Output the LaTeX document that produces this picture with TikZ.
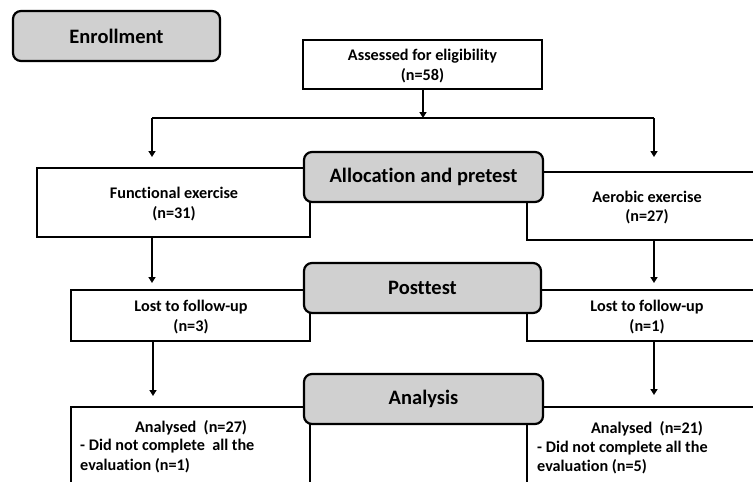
\documentclass[tikz,border=0pt]{standalone}
\usepackage{fontspec}
\setmainfont{Carlito}[Ligatures=NoCommon]
\usetikzlibrary{arrows.meta}
\definecolor{hdrgray}{RGB}{208,208,208}
\begin{document}
\begin{tikzpicture}[x=1pt,y=-1pt,
  box/.style={draw, line width=1.3pt, fill=white, inner sep=0pt, outer sep=0pt,
    font=\fontsize{16.2}{19.5}\selectfont\bfseries, align=center},
  hdr/.style={draw, line width=2.2pt, rounded corners=8pt, fill=hdrgray, inner sep=0pt, outer sep=0pt,
    font=\fontsize{20.5}{24}\selectfont\bfseries},
  txt/.style={font=\fontsize{16.2}{19.5}\selectfont\bfseries, inner sep=0pt},
  arr/.style={line width=1.6pt, -{Triangle[width=7pt,length=6pt]}},
  ln/.style={line width=1.6pt}]
\useasboundingbox (0,0) rectangle (753,482);
\clip (0,0) rectangle (753,482);
% white boxes
\node[box, minimum width=239pt, minimum height=49pt] (assess) at (422.5,64.5) {};
\node[txt, align=center] (assesst) at (422.5,66) {Assessed for eligibility\\(n=58)};
\node[box, minimum width=273pt, minimum height=69pt] (func) at (173.5,202.5) {};
\node[txt, align=center] (funct) at (174,204) {Functional exercise\\(n=31)};
\node[box, minimum width=240pt, minimum height=68pt] (aero) at (647,206) {};
\node[txt, align=center] (aerot) at (647,207.5) {Aerobic exercise\\(n=27)};
\node[box, minimum width=239pt, minimum height=51pt] (lostL) at (190.5,315.5) {};
\node[txt, align=center] (lostLt) at (191,317) {Lost to follow-up\\(n=3)};
\node[box, minimum width=240pt, minimum height=51pt] (lostR) at (647,315.5) {};
\node[txt, align=center] (lostRt) at (647,317) {Lost to follow-up\\(n=1)};
\node[box, minimum width=239pt, minimum height=113pt] (anaL) at (190.5,463.5) {};
\node[box, minimum width=240pt, minimum height=113pt] (anaR) at (647,463.5) {};
\node[txt] (anaLt1) at (191,427.5) {Analysed~ (n=27)};
\node[txt, anchor=west, align=left] (anaLt2) at (80,456) {- Did not complete~ all the\\evaluation (n=1)};
\node[txt] (anaRt1) at (647,428.5) {Analysed~ (n=21)};
\node[txt, anchor=west, align=left] (anaRt2) at (537,457.5) {- Did not complete all the\\evaluation (n=5)};
% header boxes
\node[hdr, minimum width=207pt, minimum height=50pt] (enroll) at (116.5,36) {Enrollment};
\node[hdr, minimum width=239pt, minimum height=50pt] (alloc) at (423.5,177) {Allocation and pretest};
\node[hdr, minimum width=237pt, minimum height=50pt] (post) at (422.5,288) {Posttest};
\node[hdr, minimum width=239pt, minimum height=50pt] (analysis) at (423.5,399) {Analysis};
% connectors
\coordinate (split) at (423,118);
\coordinate (splitL) at (152,118);
\coordinate (splitR) at (654,118);
\draw[arr] (assess.south -| split) -- (split);
\draw[ln] (splitL) -- (splitR);
\draw[arr, shorten >=11pt] (splitL) -- (splitL |- func.north);
\draw[arr, shorten >=15pt] (splitR) -- (splitR |- aero.north);
\draw[arr, shorten >=7pt] (func.south -| splitL) -- (lostL.north -| splitL);
\draw[arr, shorten >=7pt] (aero.south -| splitR) -- (lostR.north -| splitR);
\draw[arr, shorten >=11pt] ([xshift=1pt]lostL.south -| splitL) -- ([xshift=1pt]anaL.north -| splitL);
\draw[arr, shorten >=12pt] (lostR.south -| splitR) -- (anaR.north -| splitR);
\end{tikzpicture}
\end{document}
